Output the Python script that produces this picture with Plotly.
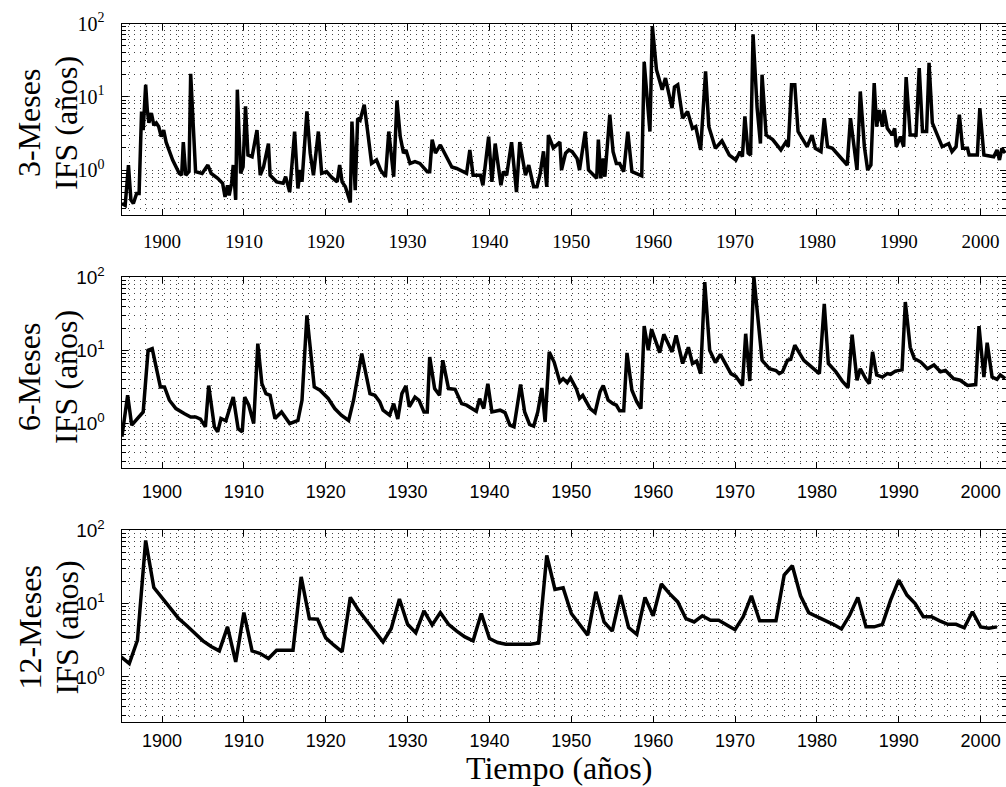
import plotly.graph_objects as go

# ---------------- data ----------------
# 3-Meses series
x3 = [1895.1, 1895.5, 1895.9, 1896.2, 1896.5, 1896.9, 1897.2, 1897.5, 1897.7, 1898.0,
      1898.2, 1898.4, 1898.7, 1899.0, 1899.3, 1899.6, 1899.9, 1900.2, 1900.5, 1901.3,
      1902.1, 1902.4, 1902.6, 1902.9, 1903.3, 1903.5, 1904.1, 1904.9, 1905.6, 1906.0,
      1906.8, 1907.4, 1907.7, 1908.0, 1908.2, 1908.5, 1908.7, 1909.0, 1909.2, 1909.6,
      1909.9, 1910.2, 1910.5, 1911.0, 1911.6, 1912.0, 1912.4, 1913.0, 1913.2, 1914.0,
      1914.8, 1915.1, 1915.6, 1916.2, 1916.6, 1916.9, 1917.1, 1917.7, 1918.1, 1918.5,
      1919.1, 1919.5, 1920.1, 1920.7, 1921.4, 1921.7, 1922.0, 1922.4, 1923.0, 1923.2,
      1923.6, 1923.9, 1924.2, 1924.7, 1925.1, 1925.6, 1926.2, 1926.7, 1927.3, 1927.7,
      1928.3, 1928.7, 1929.1, 1929.5, 1929.8, 1930.3, 1930.9, 1931.5, 1932.4, 1932.7,
      1933.0, 1933.4, 1934.0, 1934.8, 1935.4, 1936.0, 1937.2, 1937.6, 1938.0, 1938.9,
      1939.2, 1939.9, 1940.3, 1940.7, 1941.4, 1941.7, 1942.1, 1942.7, 1943.3, 1943.7,
      1944.4, 1944.8, 1945.4, 1945.8, 1946.2, 1946.6, 1947.0, 1947.2, 1947.8, 1948.6,
      1948.8, 1949.3, 1949.7, 1950.1, 1950.7, 1951.0, 1951.7, 1952.1, 1953.1, 1953.3,
      1953.6, 1953.9, 1954.1, 1954.7, 1955.1, 1955.5, 1955.9, 1956.4, 1956.9, 1957.4,
      1958.6, 1958.9, 1959.2, 1959.6, 1959.9, 1960.4, 1961.1, 1961.5, 1962.3, 1962.6,
      1963.0, 1963.6, 1964.2, 1964.8, 1965.2, 1965.8, 1966.4, 1966.8, 1967.6, 1968.4,
      1969.3, 1970.1, 1970.6, 1970.9, 1971.2, 1971.6, 1971.9, 1972.2, 1972.7, 1973.1,
      1973.3, 1973.8, 1974.6, 1975.6, 1976.2, 1976.5, 1976.9, 1977.3, 1977.7, 1978.8,
      1979.4, 1979.8, 1980.5, 1980.9, 1981.3, 1981.9, 1983.7, 1984.1, 1984.9, 1985.3,
      1985.8, 1986.2, 1986.6, 1987.0, 1987.3, 1987.6, 1988.0, 1988.2, 1988.6, 1989.2,
      1989.5, 1989.7, 1990.2, 1990.6, 1990.9, 1991.4, 1991.9, 1992.1, 1992.5, 1992.9,
      1993.4, 1993.7, 1994.1, 1994.5, 1995.3, 1996.1, 1996.5, 1997.0, 1997.4, 1997.8,
      1998.4, 1998.6, 1999.6, 1999.9, 2000.4, 2001.6, 2002.0, 2002.3, 2002.6, 2003.0]
y3 = [0.35, 0.33, 1.17, 0.39, 0.35, 0.48, 0.48, 6.3, 3.5, 14.6,
      6.6, 4.4, 6.0, 4.1, 4.4, 3.9, 2.86, 3.5, 2.4, 1.37,
      0.9, 0.85, 2.4, 0.85, 0.95, 20.6, 0.95, 0.9, 1.17, 0.9,
      0.77, 0.66, 0.43, 0.62, 0.45, 0.66, 1.17, 0.39, 12.5, 0.9,
      1.1, 7.4, 1.6, 1.52, 3.5, 0.85, 1.1, 2.3, 0.85, 0.69,
      0.66, 0.81, 0.5, 3.35, 0.56, 1.0, 0.69, 6.3, 1.7, 0.85,
      3.35, 0.9, 0.95, 0.8, 0.69, 1.17, 0.69, 0.59, 0.36, 4.6,
      0.53, 5.1, 4.8, 7.8, 3.5, 1.23, 1.37, 1.0, 0.81, 3.35,
      0.81, 8.9, 2.86, 1.7, 1.88, 1.23, 1.3, 1.23, 0.95, 0.95,
      2.6, 1.7, 2.2, 1.52, 1.1, 1.05, 0.9, 1.88, 0.85, 0.85,
      0.62, 2.86, 0.69, 2.3, 0.62, 0.95, 0.85, 2.4, 0.5, 2.4,
      0.85, 1.17, 0.59, 0.59, 0.9, 1.8, 0.59, 3.0, 2.0, 2.4,
      1.0, 1.7, 1.88, 1.78, 1.44, 1.0, 3.35, 1.0, 0.77, 2.6,
      0.77, 1.44, 0.81, 5.7, 1.78, 1.23, 1.23, 0.95, 3.35, 0.95,
      0.83, 30.0, 10.0, 3.35, 92.0, 23.4, 12.5, 18.0, 7.0, 13.6,
      14.6, 5.1, 6.3, 3.7, 3.9, 1.88, 22.2, 3.9, 1.98, 2.5,
      1.6, 1.37, 1.78, 1.52, 5.4, 1.7, 1.6, 71.0, 7.0, 2.3,
      20.0, 3.0, 2.6, 1.88, 2.4, 2.08, 14.6, 14.6, 3.35, 2.08,
      3.0, 1.98, 1.78, 5.1, 2.08, 1.98, 1.17, 5.1, 1.0, 11.8,
      2.08, 1.0, 1.17, 15.4, 3.9, 6.6, 3.9, 6.6, 3.7, 3.0,
      3.7, 2.08, 2.86, 2.08, 18.6, 3.0, 3.0, 2.86, 24.6, 3.35,
      3.35, 29.0, 4.4, 3.35, 2.08, 2.3, 1.78, 2.08, 5.7, 1.98,
      1.98, 1.6, 1.6, 7.0, 1.6, 1.52, 1.88, 1.37, 1.98, 1.7]

# 6-Meses series
x6 = [1895.1, 1895.8, 1896.3, 1897.7, 1898.3, 1898.8, 1899.8, 1900.3, 1900.9, 1901.7,
      1902.7, 1903.5, 1904.1, 1904.7, 1905.3, 1905.7, 1906.4, 1906.8, 1907.2, 1907.8,
      1908.7, 1909.3, 1909.8, 1910.1, 1910.6, 1911.2, 1911.7, 1912.2, 1912.7, 1913.2,
      1913.8, 1914.6, 1915.6, 1916.6, 1917.1, 1917.7, 1918.6, 1919.3, 1920.3, 1921.1,
      1921.9, 1922.8, 1923.4, 1924.4, 1925.4, 1926.0, 1926.6, 1927.0, 1927.8, 1928.3,
      1928.8, 1929.3, 1929.8, 1930.2, 1930.9, 1931.4, 1932.0, 1932.4, 1932.7, 1933.3,
      1933.9, 1934.3, 1935.0, 1935.8, 1936.6, 1937.2, 1938.4, 1938.8, 1939.3, 1939.8,
      1940.3, 1941.3, 1941.9, 1942.5, 1943.0, 1943.8, 1944.3, 1944.9, 1945.4, 1945.9,
      1946.4, 1946.8, 1947.3, 1947.9, 1948.6, 1949.0, 1949.5, 1949.9, 1950.6, 1951.0,
      1951.4, 1952.3, 1952.9, 1953.5, 1953.9, 1954.5, 1955.1, 1955.5, 1955.9, 1956.4,
      1956.8, 1957.4, 1958.0, 1958.5, 1958.9, 1959.4, 1959.8, 1960.8, 1961.3, 1962.3,
      1962.8, 1963.6, 1964.3, 1964.8, 1965.3, 1965.8, 1966.3, 1966.9, 1967.6, 1968.2,
      1969.5, 1970.1, 1970.9, 1971.3, 1971.8, 1972.3, 1973.3, 1974.2, 1975.0, 1975.4,
      1975.8, 1976.4, 1976.8, 1977.3, 1978.4, 1979.4, 1980.3, 1980.9, 1981.4, 1982.3,
      1983.1, 1983.8, 1984.3, 1984.9, 1985.3, 1986.0, 1986.4, 1986.8, 1987.3, 1988.0,
      1988.6, 1989.0, 1989.6, 1990.4, 1990.8, 1991.4, 1991.9, 1992.7, 1993.5, 1994.3,
      1995.1, 1995.7, 1996.7, 1997.5, 1998.4, 1999.4, 1999.8, 2000.4, 2000.8, 2001.4,
      2002.0, 2002.4, 2003.0]
y6 = [0.66, 2.43, 0.95, 1.44, 10.0, 10.5, 3.16, 3.16, 2.08, 1.6,
      1.37, 1.23, 1.23, 1.15, 0.9, 3.3, 0.9, 0.77, 1.17, 1.09,
      2.3, 0.85, 0.77, 2.3, 1.78, 1.0, 12.3, 3.5, 2.56, 2.43,
      1.17, 1.44, 1.0, 1.1, 2.08, 30.0, 3.16, 2.85, 2.2, 1.6,
      1.3, 1.1, 2.08, 9.0, 2.56, 2.43, 1.97, 1.52, 1.3, 1.87,
      1.15, 2.56, 3.26, 1.69, 2.3, 2.08, 1.44, 1.44, 8.1, 3.0,
      2.43, 7.3, 3.0, 2.93, 1.87, 1.78, 1.47, 2.19, 1.6, 3.5,
      1.44, 1.52, 1.41, 0.95, 0.9, 3.4, 1.44, 0.97, 0.92, 1.44,
      3.06, 1.05, 9.5, 6.9, 3.7, 4.1, 3.6, 4.2, 3.0, 2.2,
      2.43, 1.6, 1.41, 2.7, 3.3, 2.08, 1.87, 1.78, 1.49, 1.49,
      9.2, 2.85, 1.97, 1.6, 21.4, 10.0, 19.3, 9.3, 16.5, 9.5,
      16.0, 6.6, 11.0, 6.6, 7.1, 4.8, 85.0, 10.0, 6.8, 8.8,
      4.8, 4.4, 3.3, 16.8, 3.8, 100.0, 7.3, 5.6, 5.3, 4.8,
      5.1, 7.3, 7.5, 11.7, 7.3, 5.9, 4.8, 43.0, 6.6, 5.1,
      3.8, 3.1, 16.3, 3.9, 5.6, 4.0, 3.5, 9.5, 4.6, 4.3,
      4.8, 4.7, 5.2, 5.4, 45.6, 11.0, 7.7, 6.9, 5.6, 6.3,
      5.1, 5.3, 4.1, 3.9, 3.3, 3.4, 21.4, 4.3, 12.7, 4.3,
      4.0, 4.6, 4.1]

# 12-Meses series (annual)
x12 = list(range(1895, 2003))
y12 = [1.87, 1.52, 3.16, 72.0, 16.5, 12.0, 8.5, 6.3, 5.0, 3.9,
       3.1, 2.6, 2.26, 4.8, 1.6, 7.5, 2.26, 2.08, 1.78, 2.31,
       2.31, 2.31, 23.0, 6.2, 6.1, 3.4, 2.7, 2.2, 12.1, 8.1,
       5.8, 4.1, 3.0, 4.56, 11.5, 5.2, 4.0, 7.9, 5.1, 7.5,
       5.2, 4.2, 3.5, 3.1, 7.3, 3.33, 2.94, 2.79, 2.79, 2.8,
       2.78, 2.9, 45.0, 15.5, 16.3, 7.3, 5.2, 3.7, 14.4, 5.6,
       4.2, 13.0, 4.7, 3.8, 12.1, 6.8, 18.4, 13.6, 10.5, 6.2,
       5.6, 6.8, 5.9, 5.9, 5.1, 4.4, 6.6, 12.7, 5.8, 5.8,
       5.8, 24.3, 32.6, 12.7, 7.5, 6.6, 5.9, 5.2, 4.5, 6.9,
       12.1, 4.8, 4.8, 5.2, 11.1, 20.8, 13.0, 10.0, 6.6, 6.6,
       5.8, 5.2, 5.2, 4.66, 7.7, 4.8, 4.6, 4.8]

panel_titles = ["3-Meses", "6-Meses", "12-Meses"]
y_title_2 = "IFS (años)"
x_title = "Tiempo (años)"
year_ticks = list(range(1900, 2001, 10))
ytick_vals = [1, 10, 100]
ytick_text = ["10<sup>0</sup>", "10<sup>1</sup>", "10<sup>2</sup>"]
yminor_vals = [0.3, 0.4, 0.5, 0.6, 0.7, 0.8, 0.9,
               2, 3, 4, 5, 6, 7, 8, 9,
               20, 30, 40, 50, 60, 70, 80, 90]

# ---------------- layout ----------------
W, H = 1006, 787
SERIF = "Liberation Serif, Times New Roman, serif"
SANS = "Liberation Sans, Arial, sans-serif"
x_dom = [121.5 / W, 1.0]
panels_px = [(23.5, 214.5), (277.0, 468.0), (530.0, 721.5)]
label_center_px = [123.0, 377.0, 627.5]
tick_fonts = [SERIF, SANS, SANS]
tick_sizes = [19, 18, 18]
xlabel_standoff = [10, 7, 3]

GRID_DASH = "1px,5px"
GRID_COL = "#444444"

fig = go.Figure()
series = [(x3, y3), (x6, y6), (x12, y12)]
for i, (xs, ys) in enumerate(series):
    n = "" if i == 0 else str(i + 1)
    fig.add_trace(go.Scatter(x=xs, y=ys, mode="lines",
                             line=dict(color="black", width=3.5),
                             xaxis="x" + n, yaxis="y" + n, showlegend=False,
                             hoverinfo="skip"))
    top, bot = panels_px[i]
    ydom = [1 - bot / H, 1 - top / H]
    xa = dict(domain=x_dom, range=[1895.05, 2003.1], anchor="y" + n,
              tickmode="array", tickvals=year_ticks, automargin=False,
              ticks="inside", ticklen=6, tickcolor="black", tickwidth=1,
              showline=True, linecolor="black", linewidth=1, mirror="allticks",
              showgrid=True, gridcolor=GRID_COL, griddash=GRID_DASH, gridwidth=1,
              minor=dict(dtick=2, tick0=1900, ticks="", showgrid=True,
                         gridcolor=GRID_COL, griddash=GRID_DASH, gridwidth=1),
              tickfont=dict(family=tick_fonts[i], size=tick_sizes[i], color="black"),
              ticklabelstandoff=xlabel_standoff[i], zeroline=False, fixedrange=True)
    ya = dict(domain=ydom, type="log", range=[-0.607, 2.0], anchor="x" + n,
              tickmode="array", tickvals=ytick_vals, ticktext=ytick_text,
              automargin=False,
              ticks="inside", ticklen=6, tickcolor="black", tickwidth=1,
              showline=True, linecolor="black", linewidth=1, mirror="allticks",
              showgrid=True, gridcolor=GRID_COL, griddash=GRID_DASH, gridwidth=1,
              minor=dict(tickvals=yminor_vals, ticks="inside", ticklen=4,
                         tickcolor="black", showgrid=True,
                         gridcolor=GRID_COL, griddash=GRID_DASH, gridwidth=1),
              tickfont=dict(family=tick_fonts[i], size=tick_sizes[i] + 1, color="black"),
              ticklabelstandoff=12, zeroline=False, fixedrange=True)
    fig.layout["xaxis" + n] = xa
    fig.layout["yaxis" + n] = ya

annotations = []
for i in range(3):
    yc = 1 - label_center_px[i] / H
    annotations.append(dict(text=panel_titles[i], xref="paper", yref="paper",
                            x=29 / W, y=yc, xanchor="center", yanchor="middle",
                            textangle=-90, showarrow=False,
                            font=dict(family=SERIF, size=32, color="black")))
    annotations.append(dict(text=y_title_2, xref="paper", yref="paper",
                            x=66 / W, y=yc, xanchor="center", yanchor="middle",
                            textangle=-90, showarrow=False,
                            font=dict(family=SERIF, size=32, color="black")))
annotations.append(dict(text=x_title, xref="paper", yref="paper",
                        x=559 / W, y=0.0, xanchor="center", yanchor="bottom",
                        borderpad=0, showarrow=False,
                        font=dict(family=SERIF, size=32, color="black")))

fig.update_layout(width=W, height=H, margin=dict(l=0, r=0, t=0, b=0, autoexpand=False),
                  paper_bgcolor="white", plot_bgcolor="white",
                  annotations=annotations, showlegend=False)

fig.write_html("out.html", config={"displayModeBar": False})
